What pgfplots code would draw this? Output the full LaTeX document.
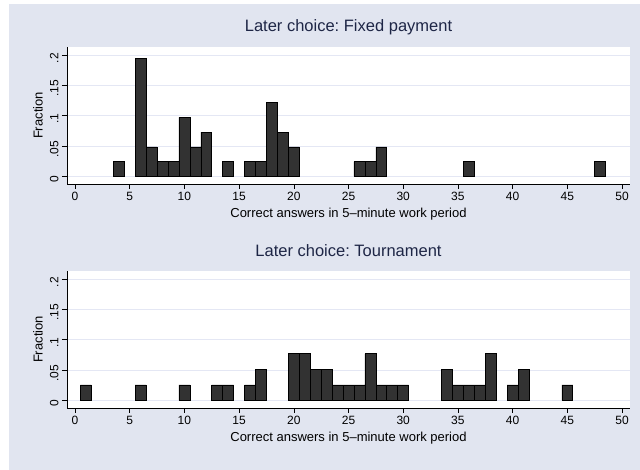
\documentclass[border=0pt]{standalone}
\usepackage{fontspec}
\setmainfont{Liberation Sans}
\usepackage{pgfplots}
\pgfplotsset{compat=1.18}
\definecolor{bg}{RGB}{225,229,240}
\definecolor{gridc}{RGB}{228,231,244}
\definecolor{barc}{RGB}{50,50,50}
\definecolor{ttl}{RGB}{30,38,70}
\frenchspacing
\begin{document}
\begin{tikzpicture}[x=1pt,y=1pt]
\useasboundingbox (0,0) rectangle (640,470);
\fill[white] (0,0) rectangle (640,470);
\fill[bg] (9,0) rectangle (640,466);
\pgfplotsset{
 hist/.style={
  scale only axis, width=563pt, height=137pt,
  xmin=-0.73, xmax=50.73, ymin=-0.0125, ymax=0.2135,
  axis x line*=bottom, axis y line*=left,
  axis line style={black, line width=0.8pt, -},
  axis background/.style={fill=white},
  xtick={0,5,...,50}, ytick={0,0.05,0.1,0.15,0.2},
  yticklabels={0,.05,.1,.15,.2},
  /pgf/number format/assume math mode=true,
  ticklabel style={font=\fontsize{12}{14}\selectfont},
  yticklabel style={rotate=90, anchor=south, xshift=-3pt},
  tick align=outside, major tick length=5pt,
  tick style={black, line width=0.6pt},
  ymajorgrids, grid style={color=gridc, line width=0.9pt},
  xlabel={Correct answers in 5–minute work period},
  ylabel={Fraction},
  label style={font=\fontsize{13}{15}\selectfont},
  xlabel style={at={(axis description cs:0.5,0)}, yshift=-30pt, anchor=center},
  ylabel style={at={(axis description cs:-0.0515,0.5)}, anchor=center, rotate=0},
  title style={at={(axis description cs:0.5,1)}, yshift=14pt, anchor=center, font=\fontsize{16.5}{19}\selectfont, text=ttl},
  ybar, bar width=1, bar shift=0,
 }
}
\begin{axis}[hist, at={(67pt,286pt)}, anchor=south west, title={Later choice: Fixed payment}]
\addplot[fill=barc, draw=black, line width=0.6pt] coordinates {(4,0.02439) (6,0.19512) (7,0.04878) (8,0.02439) (9,0.02439) (10,0.09756) (11,0.04878) (12,0.07317) (14,0.02439) (16,0.02439) (17,0.02439) (18,0.12195) (19,0.07317) (20,0.04878) (26,0.02439) (27,0.02439) (28,0.04878) (36,0.02439) (48,0.02439)};
\end{axis}
\begin{axis}[hist, at={(67pt,62pt)}, anchor=south west, title={Later choice: Tournament}]
\addplot[fill=barc, draw=black, line width=0.6pt] coordinates {(1,0.02564) (6,0.02564) (10,0.02564) (13,0.02564) (14,0.02564) (16,0.02564) (17,0.05128) (20,0.07692) (21,0.07692) (22,0.05128) (23,0.05128) (24,0.02564) (25,0.02564) (26,0.02564) (27,0.07692) (28,0.02564) (29,0.02564) (30,0.02564) (34,0.05128) (35,0.02564) (36,0.02564) (37,0.02564) (38,0.07692) (40,0.02564) (41,0.05128) (45,0.02564)};
\end{axis}
\end{tikzpicture}
\end{document}
